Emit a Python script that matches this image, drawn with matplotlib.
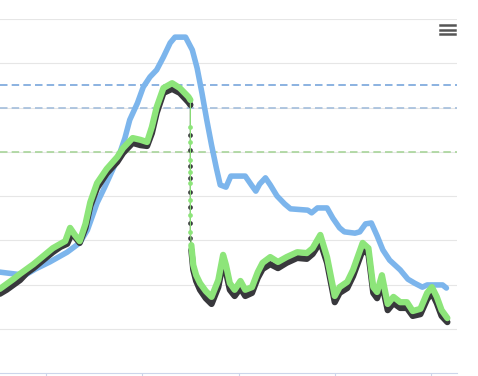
import numpy as np
import matplotlib.pyplot as plt
from matplotlib.lines import Line2D

# --- data (x in minutes, y in arbitrary units) ---
blue_x = [5.2, 7.8, 8.9, 10.4, 12.2, 13.5, 14.3, 15.3, 16.1, 17.0, 17.7, 18.2, 18.7,
          19.5, 20.1, 20.8, 21.5, 22.2, 22.9, 23.4, 24.5, 25.2, 25.7, 26.2, 26.7, 27.2,
          27.7, 28.1, 28.7, 29.2, 30.7, 31.4, 31.8, 32.2, 32.8, 33.3, 34.0, 34.8, 35.4,
          37.2, 37.6, 38.2, 39.2, 39.8, 40.5, 41.0, 42.1, 42.6, 43.2, 43.8, 44.4, 45.0,
          45.7, 46.8, 47.6, 48.3, 49.1, 49.6, 51.2, 51.6]
blue_y = [22.8, 22.1, 23.5, 25.1, 27.3, 29.4, 32.3, 38.4, 42.0, 46.3, 49.9, 53.1, 57.2,
          61.0, 64.6, 66.9, 68.5, 71.4, 74.6, 75.9, 75.9, 73.0, 68.9, 63.3, 57.2, 51.5,
          46.3, 42.5, 42.0, 44.5, 44.5, 42.3, 41.1, 42.7, 44.1, 42.5, 40.0, 38.2, 37.1,
          36.8, 36.2, 37.3, 37.3, 35.0, 32.8, 31.9, 31.6, 31.9, 33.7, 33.9, 31.0, 27.8,
          25.5, 23.3, 21.2, 20.3, 19.4, 19.9, 19.9, 19.2]

green_x = [5.2, 5.9, 6.6, 7.3, 8.0, 8.7, 9.7, 10.7, 11.5, 12.0, 12.5, 13.0, 13.5, 14.1,
           14.6, 15.3, 16.3, 17.4, 18.0, 19.0, 19.8, 20.5, 21.0, 21.5, 22.2, 23.1, 23.9,
           24.8, 25.0, 25.0, 25.0, 25.0, 25.0, 25.0, 25.0, 25.0, 25.0,
           25.1, 25.3, 25.6, 26.0, 26.6, 27.2, 27.9, 28.4, 28.7, 29.1, 29.6, 30.2, 30.7,
           31.4, 32.0, 32.5, 33.3, 34.1, 35.0, 36.1, 37.1, 37.7, 38.5, 39.2, 40.0, 40.5,
           41.3, 41.9, 42.9, 43.5, 44.0, 44.4, 44.9, 45.2, 45.5, 46.1, 46.8, 47.5, 48.1,
           48.9, 49.6, 50.1, 50.6, 51.1, 51.7]
green_y = [19.0, 20.1, 21.2, 22.4, 23.5, 24.6, 26.4, 28.2, 29.2, 29.8, 32.8, 31.2, 29.8,
           33.7, 38.6, 42.9, 46.1, 48.8, 50.8, 53.1, 52.7, 52.2, 55.6, 60.1, 64.4, 65.5,
           64.4, 62.4, 61.7, 55.6, 52.2, 48.1, 45.4, 42.9, 39.1, 35.7, 31.9,
           28.9, 24.4, 22.1, 20.3, 18.5, 17.2, 21.0, 26.7, 24.4, 20.3, 18.8, 20.8, 18.8,
           19.4, 22.8, 24.9, 26.2, 25.1, 26.2, 27.3, 27.1, 28.2, 31.2, 26.2, 17.4, 19.4,
           20.6, 23.3, 29.4, 28.2, 19.4, 18.3, 22.1, 18.8, 15.6, 17.2, 16.0, 16.0, 14.0,
           14.5, 18.1, 19.4, 17.2, 14.2, 12.4]

black_x = [5.2, 5.9, 6.6, 7.3, 8.0, 8.7, 9.7, 10.7, 11.5, 12.2, 12.7, 13.5, 14.1, 14.6,
           15.3, 16.3, 17.4, 18.0, 19.0, 19.8, 20.5, 21.0, 21.5, 22.2, 23.1, 23.9, 24.8,
           25.0, 25.0, 25.0, 25.0, 25.0, 25.0, 25.0, 25.0, 25.0,
           25.1, 25.3, 25.6, 26.0, 26.6, 27.2, 27.9, 28.4, 28.7, 29.1, 29.6, 30.2, 30.7,
           31.4, 32.0, 32.5, 33.3, 34.1, 35.0, 36.1, 37.1, 37.7, 38.5, 39.2, 40.0, 40.5,
           41.3, 41.9, 42.9, 43.5, 44.0, 44.4, 44.9, 45.2, 45.5, 46.1, 46.8, 47.5, 48.1,
           48.9, 49.6, 50.1, 50.6, 51.1, 51.7]
black_y = [17.9, 18.8, 19.9, 21.0, 22.6, 23.7, 25.5, 27.3, 28.5, 29.2, 31.6, 29.4, 32.8,
           37.7, 41.8, 45.1, 47.7, 49.7, 52.0, 51.5, 51.3, 54.2, 58.8, 63.3, 64.2, 63.3,
           61.2, 60.6, 53.8, 50.4, 46.8, 44.1, 40.9, 37.5, 33.9, 30.5,
           27.8, 23.3, 20.8, 18.8, 16.9, 15.6, 19.4, 25.1, 22.8, 18.8, 17.4, 19.2, 17.4,
           18.1, 21.5, 23.5, 24.6, 23.7, 24.9, 26.0, 25.8, 26.9, 29.6, 24.9, 16.0, 18.1,
           19.2, 21.9, 27.8, 26.9, 18.1, 16.9, 20.3, 17.2, 14.2, 15.8, 14.7, 14.7, 12.9,
           13.3, 16.7, 18.1, 15.8, 12.9, 11.5]

thresholds = [65, 60, 50]
threshold_colors = ["#78a6dc", "#a3bedc", "#a8d59a"]
x_ticks = [10, 20, 30, 40, 50]
y_grid = [0, 10, 20, 30, 40, 50, 60, 70, 80]


def draw_series(ax, x, y, color, z):
    x = np.asarray(x, float)
    y = np.asarray(y, float)
    drop = np.where(x == 25.0)[0]
    thick = y.copy()
    if len(drop) > 1:
        # the sudden drop shows as sparse markers on a thin line
        thick[drop[1:]] = np.nan
        seg = slice(drop[0], drop[-1] + 2)
        ax.plot(x[seg], y[seg], color=color, lw=0.8, marker="o", ms=3.4,
                markeredgewidth=0, zorder=z)
    ax.plot(x, thick, color=color, lw=4.5, solid_joinstyle="round",
            solid_capstyle="round", zorder=z)


W, H = 478, 376
fig = plt.figure(figsize=(W / 100, H / 100), dpi=100)
ax = fig.add_axes([0, 3 / H, 457 / W, 354 / H])
ax.set_xlim(5.22, 5.22 + 457 / 9.625)
ax.set_ylim(0, 80)

for g in y_grid[1:]:
    ax.axhline(g, color="#e6e6e6", lw=0.8, zorder=0)

for t, c in zip(thresholds, threshold_colors):
    ax.axhline(t, color=c, lw=1.2, linestyle=(0, (4.5, 2.5)), zorder=1)

ax.plot(blue_x, blue_y, color="#7cb5ec", lw=4.0, solid_joinstyle="round",
        solid_capstyle="round", zorder=2)
draw_series(ax, black_x, black_y, "#38383c", 3)
draw_series(ax, green_x, green_y, "#8de57a", 4)

for side in ["top", "right", "left"]:
    ax.spines[side].set_visible(False)
ax.spines["bottom"].set_color("#ccd6eb")
ax.spines["bottom"].set_linewidth(0.8)
ax.set_xticks(x_ticks)
ax.set_xticklabels([])
ax.set_yticks([])
ax.tick_params(axis="x", length=4, width=0.8, color="#ccd6eb", direction="out")

# context menu icon
for yy in [25, 29.5, 34]:
    fig.add_artist(Line2D([440 / W, 455 / W], [1 - yy / H, 1 - yy / H],
                          color="#555555", lw=1.8))

fig.savefig("out.png", dpi=100)
